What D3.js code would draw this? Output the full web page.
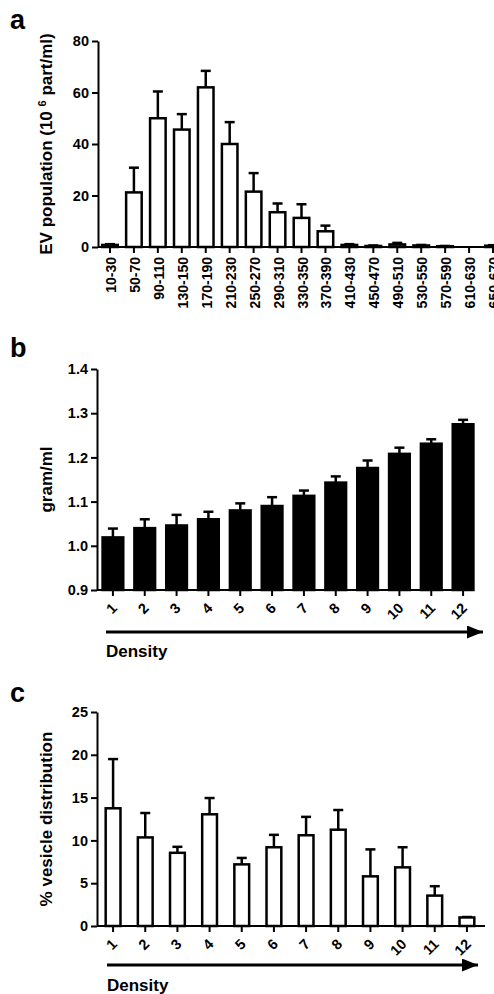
<!doctype html>
<html lang="en">
<head>
    <meta charset="utf-8" />
    <title>EV size, density and distribution</title>
    <style>
        body { margin: 0; background: #fff; }
        #figure text { font-family: "Liberation Sans", Arial, sans-serif; font-weight: bold; fill: #000; }
    </style>
</head>
<body>
    <svg id="figure"></svg>

    <script src="https://cdn.jsdelivr.net/npm/d3@7/dist/d3.min.js"></script>
    <script>
        // panel a - size distribution
        const sizeBins = ["10-30", "50-70", "90-110", "130-150", "170-190", "210-230", "250-270", "290-310",
            "330-350", "370-390", "410-430", "450-470", "490-510", "530-550", "570-590", "610-630", "650-670"];
        const evMean = [0.8, 21.2, 50, 45.6, 62, 40, 21.5, 13.5, 11.3, 6.1, 0.8, 0.4, 1.0, 0.6, 0.3, 0, 0.5];
        const evSem = [0.3, 9.6, 10.4, 6.0, 6.4, 8.5, 7.2, 3.4, 5.3, 2.2, 0.3, 0.2, 0.6, 0.2, 0.1, 0, 0.2];
        const evTicks = [0, 20, 40, 60, 80];

        // panel b - density of fractions
        const fractions = ["1", "2", "3", "4", "5", "6", "7", "8", "9", "10", "11", "12"];
        const densityMean = [1.019, 1.040, 1.046, 1.060, 1.080, 1.090, 1.113, 1.143, 1.176, 1.208, 1.231, 1.275];
        const densitySem = [0.020, 0.020, 0.024, 0.017, 0.016, 0.020, 0.012, 0.014, 0.017, 0.014, 0.010, 0.010];
        const densityTicks = [0.9, 1.0, 1.1, 1.2, 1.3, 1.4];

        // panel c - vesicle distribution over fractions
        const vesicleMean = [13.75, 10.35, 8.55, 13.05, 7.2, 9.2, 10.6, 11.25, 5.8, 6.85, 3.55, 1.0];
        const vesicleSem = [5.75, 2.85, 0.7, 1.9, 0.75, 1.45, 2.15, 2.3, 3.15, 2.35, 1.1, 0.05];
        const vesicleTicks = [0, 5, 10, 15, 20, 25];

        const width = 494, height = 994;

        const svg = d3.select("#figure")
            .attr("width", width)
            .attr("height", height)
            .attr("viewBox", [0, 0, width, height]);

        // arrow head marker for the density arrows
        svg.append("defs").append("marker")
            .attr("id", "arrow")
            .attr("viewBox", "0 0 16 13")
            .attr("refX", 16)
            .attr("refY", 6.5)
            .attr("markerUnits", "userSpaceOnUse")
            .attr("markerWidth", 16)
            .attr("markerHeight", 13)
            .attr("orient", "auto")
            .append("path")
            .attr("d", "M0,0 L16,6.5 L0,13 Z")
            .attr("fill", "#000");

        drawPanel({
            letter: "a", letterY: 29,
            categories: sizeBins, mean: evMean, sem: evSem,
            x0: 98, x1: 505, padding: 0.35,
            domain: [0, 80], ticks: evTicks, format: d3.format("d"),
            y0: 247, y1: 41,
            fill: "#fff",
            labelMode: "vertical",
            title: ["EV population (10 ", "6", " part/ml)"],
            axisEnd: 494
        });

        drawPanel({
            letter: "b", letterY: 357,
            categories: fractions, mean: densityMean, sem: densitySem,
            x0: 97, x1: 479, padding: 0.35,
            domain: [0.9, 1.4], ticks: densityTicks, format: d3.format(".1f"),
            y0: 590, y1: 369,
            fill: "#000",
            labelMode: "diagonal",
            title: ["gram/ml"],
            axisEnd: 474,
            arrowY: 632, arrowX: [106, 483], densityY: 657
        });

        drawPanel({
            letter: "c", letterY: 702,
            categories: fractions, mean: vesicleMean, sem: vesicleSem,
            x0: 97, x1: 483, padding: 0.54,
            domain: [0, 25], ticks: vesicleTicks, format: d3.format("d"),
            y0: 926, y1: 712,
            fill: "#fff",
            labelMode: "diagonal",
            title: ["% vesicle distribution"],
            axisEnd: 485,
            arrowY: 965, arrowX: [107, 478], densityY: 991
        });

        function drawPanel(p) {

            const x = d3.scaleBand()
                .domain(p.categories)
                .range([p.x0, p.x1])
                .paddingInner(p.padding)
                .paddingOuter(p.padding / 2);

            const y = d3.scaleLinear()
                .domain(p.domain)
                .range([p.y0, p.y1]);

            const g = svg.append("g");

            g.append("text")
                .attr("x", 10)
                .attr("y", p.letterY)
                .attr("font-size", 27)
                .text(p.letter);

            const rows = p.categories.map((c, i) => ({cat: c, mean: p.mean[i], sem: p.sem[i]}));

            // error bars (upper only)
            const err = g.append("g")
                .attr("stroke", "#000")
                .attr("stroke-width", 2.5)
                .selectAll("g")
                .data(rows.filter(d => d.sem > 0))
                .join("g")
                .attr("transform", d => `translate(${x(d.cat) + x.bandwidth() / 2},0)`);
            err.append("line")
                .attr("y1", d => y(d.mean))
                .attr("y2", d => y(d.mean + d.sem));
            err.append("line")
                .attr("x1", -5)
                .attr("x2", 5)
                .attr("y1", d => y(d.mean + d.sem))
                .attr("y2", d => y(d.mean + d.sem));

            // bars
            g.append("g")
                .selectAll("rect")
                .data(rows.filter(d => d.mean > p.domain[0]))
                .join("rect")
                .attr("x", d => x(d.cat))
                .attr("y", d => y(d.mean))
                .attr("width", x.bandwidth())
                .attr("height", d => y(p.domain[0]) - y(d.mean))
                .attr("fill", p.fill)
                .attr("stroke", "#000")
                .attr("stroke-width", 2.5);

            // y axis
            const yAxis = g.append("g")
                .attr("transform", `translate(${p.x0},0)`)
                .call(d3.axisLeft(y).tickValues(p.ticks).tickFormat(p.format).tickSize(6).tickPadding(3).tickSizeOuter(0));
            yAxis.select(".domain").attr("stroke-width", 2);
            yAxis.selectAll(".tick line").attr("stroke-width", 2);
            yAxis.selectAll(".tick text").attr("font-size", 14.5).attr("font-family", null);

            // x axis
            const xAxis = g.append("g")
                .attr("transform", `translate(0,${p.y0})`)
                .call(d3.axisBottom(x).tickSize(6).tickSizeOuter(0));
            xAxis.select(".domain")
                .attr("d", `M${p.x0},0H${p.axisEnd}`)
                .attr("stroke-width", 2);
            xAxis.selectAll(".tick line").attr("stroke-width", 2);

            const labels = xAxis.selectAll(".tick text")
                .attr("font-family", null)
                .attr("dy", null)
                .attr("y", null)
                .attr("text-anchor", "end");
            if (p.labelMode === "vertical") {
                labels.attr("font-size", 14).attr("transform", "translate(6,10) rotate(-90)");
            } else {
                labels.attr("font-size", 14.5).attr("transform", "translate(5,19) rotate(-45)");
            }

            // y title
            const cy = (p.y0 + p.y1) / 2;
            const title = g.append("text")
                .attr("font-size", 17)
                .attr("text-anchor", "middle")
                .attr("transform", `translate(52,${cy}) rotate(-90)`);
            title.selectAll("tspan")
                .data(p.title)
                .join("tspan")
                .attr("font-size", (d, i) => i === 1 ? 11 : null)
                .attr("dy", (d, i) => i === 1 ? "-0.55em" : (i === 2 ? "0.37em" : null))
                .attr("xml:space", "preserve")
                .text(d => d);

            // density arrow
            if (p.arrowY) {
                g.append("line")
                    .attr("x1", p.arrowX[0])
                    .attr("x2", p.arrowX[1])
                    .attr("y1", p.arrowY)
                    .attr("y2", p.arrowY)
                    .attr("stroke", "#000")
                    .attr("stroke-width", 3)
                    .attr("marker-end", "url(#arrow)");
                g.append("text")
                    .attr("x", p.arrowX[0])
                    .attr("y", p.densityY)
                    .attr("font-size", 17)
                    .text("Density");
            }
        }
    </script>
</body>
</html>
